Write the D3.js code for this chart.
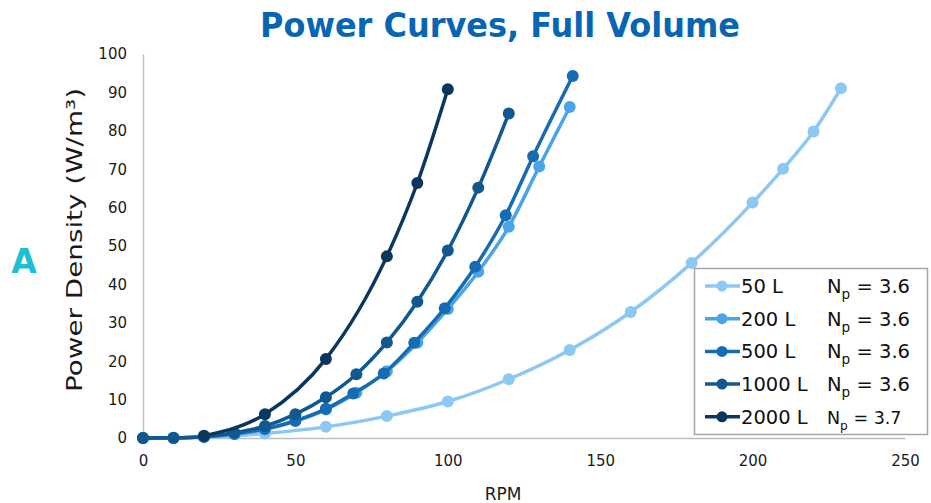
<!DOCTYPE html>
<html><head><meta charset="utf-8">
<script src="https://cdn.jsdelivr.net/npm/d3@7"></script>
<style>body{margin:0;background:#fff}svg{display:block}</style>
</head><body>
<svg id="c" width="931" height="503"></svg>
<script>
const seriesNames = ["50 L", "200 L", "500 L", "1000 L", "2000 L"];
const npValues = ["3.6", "3.6", "3.6", "3.6", "3.7"];
const colors = ["#8dc8f3", "#4aa5e8", "#176cb1", "#115890", "#0b375f"];

const rpm50 = [0, 10, 20, 40, 60, 80, 100, 120, 140, 160, 180, 200, 210, 220, 229];
const pd50 = [0, 0.02, 0.2, 1.2, 2.9, 5.7, 9.5, 15.3, 22.9, 32.8, 45.6, 61.3, 70.1, 79.8, 91.1];

const rpm200 = [0, 10, 20, 30, 40, 50, 60, 70, 80, 90, 100, 110, 120, 130, 140];
const pd200 = [0, 0.03, 0.3, 1.0, 2.2, 4.4, 7.4, 11.8, 17.4, 24.8, 33.6, 43.3, 55.0, 70.7, 86.2];

const rpm500 = [0, 10, 20, 30, 40, 50, 60, 69, 79, 89, 99, 109, 119, 128, 141];
const pd500 = [0, 0.03, 0.3, 1.1, 2.4, 4.5, 7.6, 11.6, 16.8, 24.8, 33.8, 44.6, 58.0, 73.4, 94.3];

const rpm1000 = [0, 10, 20, 30, 40, 50, 60, 70, 80, 90, 100, 110, 120];
const pd1000 = [0, 0.05, 0.4, 1.4, 3.1, 6.2, 10.6, 16.6, 24.9, 35.5, 48.8, 65.2, 84.5];

const rpm2000 = [20, 40, 60, 80, 90, 100];
const pd2000 = [0.6, 6.2, 20.6, 47.3, 66.4, 90.8];

const xTicks = [0, 50, 100, 150, 200, 250];
const yTicks = [0, 10, 20, 30, 40, 50, 60, 70, 80, 90, 100];

const rpmSets = [rpm50, rpm200, rpm500, rpm1000, rpm2000];
const pdSets = [pd50, pd200, pd500, pd1000, pd2000];
const series = seriesNames.map((n, i) => ({
  name: n, np: npValues[i], color: colors[i],
  pts: rpmSets[i].map((r, j) => ({x: r, y: pdSets[i][j]}))
}));

const svg = d3.select("#c");
const font = "'DejaVu Sans', Verdana, sans-serif";
const x = d3.scaleLinear().domain([0, 250]).range([143, 905]);
const y = d3.scaleLinear().domain([0, 100]).range([438, 54]);

// title
svg.append("text").attr("x", 500).attr("y", 37).attr("text-anchor", "middle")
  .attr("font-family", font).attr("font-weight", "bold").attr("font-size", 33)
  .attr("fill", "#0865b2").attr("textLength", 480).attr("lengthAdjust", "spacingAndGlyphs")
  .text("Power Curves, Full Volume");

// panel letter
svg.append("text").attr("x", 24).attr("y", 273).attr("text-anchor", "middle")
  .attr("font-family", font).attr("font-weight", "bold").attr("font-size", 33)
  .attr("fill", "#1ebfd2").text("A");

// axes
const yAxis = d3.axisLeft(y).tickValues(yTicks).tickSize(0).tickPadding(16);
const gy = svg.append("g").attr("transform", `translate(${x(0)},0)`).call(yAxis);
gy.select(".domain").attr("stroke", "#bfbfbf").attr("stroke-width", 1.5);
gy.selectAll("text").attr("font-family", font).attr("font-size", 15).attr("fill", "#1a1a1a");

const xAxis = d3.axisBottom(x).tickValues(xTicks).tickSize(0).tickPadding(17);
const gx = svg.append("g").attr("transform", `translate(0,${y(0)})`).call(xAxis);
gx.select(".domain").attr("stroke", "#bfbfbf").attr("stroke-width", 1.5);
gx.selectAll("text").attr("font-family", font).attr("font-size", 15).attr("fill", "#1a1a1a");

// axis titles
svg.append("text").attr("x", 503).attr("y", 500).attr("text-anchor", "middle")
  .attr("font-family", font).attr("font-size", 17).attr("fill", "#1a1a1a").text("RPM");
svg.append("text").attr("transform", "translate(82,240) rotate(-90)").attr("text-anchor", "middle")
  .attr("font-family", font).attr("font-size", 21).attr("fill", "#1a1a1a")
  .attr("textLength", 304).attr("lengthAdjust", "spacingAndGlyphs")
  .text("Power Density  (W/m³)");

// lines
const line = d3.line().x(d => x(d.x)).y(d => y(d.y)).curve(d3.curveMonotoneX);
const g = svg.append("g");
series.forEach(s => {
  const gs = g.append("g");
  gs.append("path").attr("d", line(s.pts)).attr("fill", "none")
    .attr("stroke", s.color).attr("stroke-width", 3.5);
  gs.selectAll("circle").data(s.pts).join("circle")
    .attr("cx", d => x(d.x)).attr("cy", d => y(d.y)).attr("r", 6).attr("fill", s.color);
});

// legend
const lg = svg.append("g");
lg.append("rect").attr("x", 694.5).attr("y", 268.5).attr("width", 233).attr("height", 166)
  .attr("fill", "#fff").attr("stroke", "#a6a6a6").attr("stroke-width", 1.5);
series.forEach((s, i) => {
  const cy = 286 + i * 32.7;
  lg.append("line").attr("x1", 705).attr("x2", 740).attr("y1", cy).attr("y2", cy)
    .attr("stroke", s.color).attr("stroke-width", 3.5);
  lg.append("circle").attr("cx", 722).attr("cy", cy).attr("r", 5.5).attr("fill", s.color);
  lg.append("text").attr("x", 741).attr("y", cy + 7).attr("font-family", font)
    .attr("font-size", 19.5).attr("fill", "#111").text(s.name);
  const fs = i === 4 ? 17.5 : 19.5;
  const t = lg.append("text").attr("x", 827).attr("y", cy + 7).attr("font-family", font)
    .attr("font-size", fs).attr("fill", "#111");
  t.append("tspan").text("N");
  t.append("tspan").attr("dy", 6).attr("font-size", fs * 0.7).text("p");
  t.append("tspan").attr("dy", -6).text(" = " + s.np);
});
</script>
</body></html>
